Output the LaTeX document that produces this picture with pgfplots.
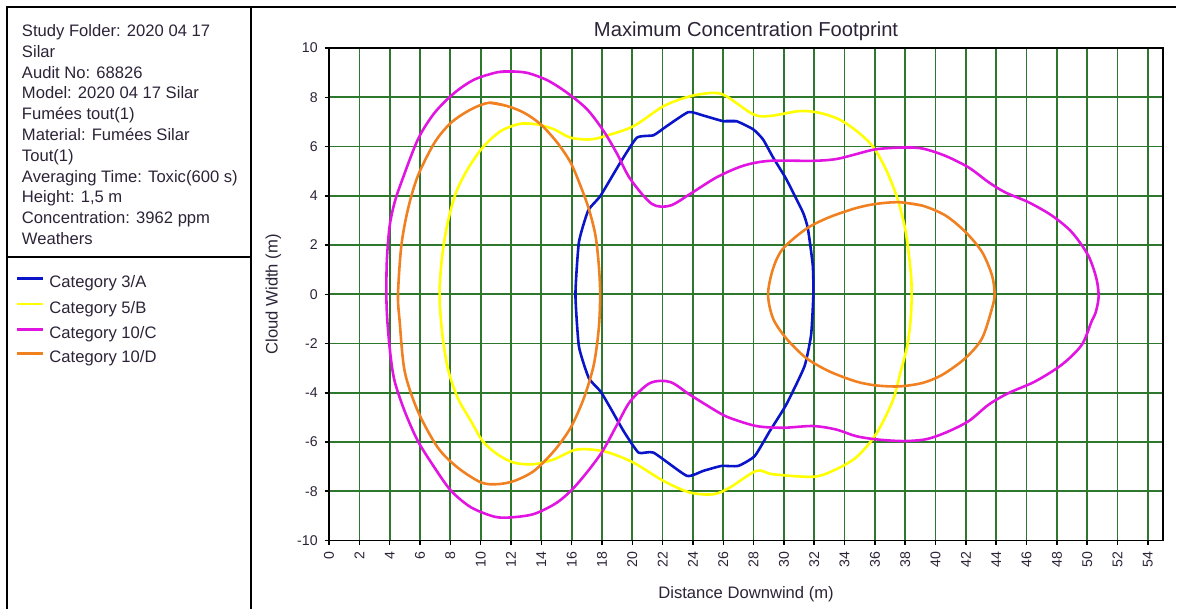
\documentclass[border=0pt]{standalone}
\usepackage{pgfplots}
\pgfplotsset{compat=1.18}
\usepackage{fontspec}
\setmainfont{Liberation Sans}
\definecolor{cA}{RGB}{10,20,200}
\definecolor{cB}{RGB}{255,255,0}
\definecolor{cC}{RGB}{225,20,225}
\definecolor{cD}{RGB}{240,128,32}
\definecolor{gridg}{RGB}{45,120,45}
\definecolor{txt}{RGB}{45,35,55}
\begin{document}
\begin{tikzpicture}
\begin{scope}[x=0.5pt,y=-0.5pt]
\path[use as bounding box] (0,0) rectangle (1177,607);
\end{scope}
\begin{axis}[
 at={(165.35pt,-271.65pt)}, anchor=south west,
 scale only axis, width=419.15pt, height=247.5pt,
 xmin=0, xmax=55, ymin=-10, ymax=10,
 xtick={0,2,...,54}, ytick={-10,-8,...,10},
 grid=major,
 major grid style={draw=gridg, line width=0.85pt},
 axis line style={black, line width=0.8pt},
 tick style={black, line width=0.8pt},
 tick align=outside, major tick length=2.2pt,
 tick pos=left,
 tick label style={font=\fontsize{7.1}{8}\selectfont, text=txt},
 /pgf/number format/assume math mode=true,
 xticklabel style={rotate=90, anchor=east},
 title={Maximum Concentration Footprint},
 title style={at={(axis description cs:0.5,1)}, anchor=base, yshift=-0.2pt, font=\fontsize{10.15}{12}\selectfont, text=txt},
 xlabel={Distance Downwind (m)},
 xlabel style={at={(axis description cs:0.5,0)}, anchor=base, yshift=-29.3pt, font=\fontsize{8.35}{10}\selectfont, text=txt},
 ylabel={Cloud Width (m)},
 ylabel style={at={(axis description cs:-0.0617,0.5)}, anchor=base, font=\fontsize{8.35}{10}\selectfont, text=txt},
 every axis plot/.append style={line width=1.3pt, line join=round},
]
% Category 3/A
\addplot[cA, smooth, tension=0.3] coordinates {(26.0,7.03) (26.87,7.03) (27.97,6.70) (28.62,6.29) (29.28,5.56) (30.15,4.68) (31.25,3.33) (31.58,2.66) (31.9,1.18) (31.94,0) (31.79,-1.65) (31.35,-2.93) (30.15,-4.48) (29.06,-5.56) (28.07,-6.57) (26.98,-6.97) (25.88,-6.97) (24.68,-7.17) (23.59,-7.37) (21.4,-6.43) (20.41,-6.43) (19.43,-5.56) (18.55,-4.61) (17.9,-3.94) (17.13,-3.40) (16.48,-2.12) (16.25,0) (16.48,2.12) (17.09,3.40) (17.9,4.0) (19.21,5.35) (20.3,6.36) (21.4,6.46) (22.27,6.83) (23.70,7.40) (24.68,7.26) (26.0,7.03) (26.87,7.03)};
% Category 5/B
\addplot[cB, smooth, tension=0.5] coordinates {(12.64,6.93) (13.74,6.90) (14.84,6.70) (15.93,6.36) (17.24,6.29) (18.34,6.45) (20.09,6.83) (22.06,7.64) (23.8,8.04) (25.34,8.18) (26.21,8.04) (27.97,7.31) (29.06,7.24) (31.02,7.44) (32.34,7.37) (33.65,7.10) (34.75,6.65) (35.84,6.02) (36.72,5.08) (37.49,3.87) (38.03,2.53) (38.36,0.91) (38.42,0) (38.36,-0.98) (38.14,-2.06) (37.70,-3.13) (37.16,-4.34) (36.06,-5.69) (34.75,-6.63) (33.22,-7.17) (31.9,-7.41) (29.28,-7.31) (28.18,-7.17) (26.43,-7.85) (25.34,-8.12) (23.8,-8.05) (22.06,-7.58) (20.09,-6.84) (18.45,-6.43) (17.24,-6.30) (16.15,-6.33) (14.84,-6.70) (13.52,-6.9) (12.21,-6.84) (11.11,-6.5) (10.13,-5.96) (9.36,-5.15) (8.49,-4.21) (7.83,-3.0) (7.45,-1.5) (7.29,0) (7.45,1.5) (7.83,2.93) (8.38,4.14) (9.14,5.08) (10.13,5.96) (11.33,6.63) (12.64,6.93) (13.74,6.90)};
% Category 10/C
\addplot[cC, smooth, tension=0.5] coordinates {(11.11,9.02) (11.99,9.05) (13.08,8.99) (14.4,8.69) (15.71,8.18) (17.02,7.51) (18.12,6.62) (19.0,5.7) (19.87,4.68) (21.29,3.67) (22.49,3.60) (23.8,4.07) (25.56,4.75) (27.31,5.22) (29.06,5.42) (31.9,5.42) (33.43,5.49) (34.75,5.69) (36.06,5.89) (37.81,5.96) (39.13,5.92) (40.65,5.62) (42.18,5.15) (43.5,4.55) (44.59,4.14) (46.12,3.74) (47.66,3.20) (48.97,2.53) (50.06,1.58) (50.6,0.65) (50.75,-0.1) (50.55,-0.75) (50.28,-1.11) (49.63,-2.06) (48.32,-2.86) (46.56,-3.54) (44.81,-4.01) (43.5,-4.48) (42.18,-5.15) (40.65,-5.62) (39.34,-5.89) (37.81,-5.96) (36.06,-5.89) (34.75,-5.76) (33.43,-5.49) (31.9,-5.35) (29.93,-5.42) (28.18,-5.35) (26.43,-5.02) (25.56,-4.75) (23.8,-4.08) (22.49,-3.56) (21.18,-3.60) (19.87,-4.34) (19.0,-5.29) (17.9,-6.5) (16.3,-7.75) (15.05,-8.45) (13.52,-8.92) (11.99,-9.06) (10.9,-9.03) (9.36,-8.65) (8.05,-7.98) (6.96,-7.04) (5.86,-5.96) (4.99,-4.75) (4.33,-3.54) (4.05,-2.46) (3.85,-1.11) (3.78,0) (3.82,1.45) (4.0,2.79) (4.33,3.74) (4.77,4.55) (5.86,6.29) (6.96,7.37) (8.27,8.18) (9.58,8.72) (11.11,9.02) (11.99,9.05)};
% Category 10/D
\addplot[cD, smooth, tension=0.5] coordinates {(10.57,7.78) (11.77,7.64) (12.87,7.37) (13.96,6.90) (15.05,6.16) (15.93,5.35) (16.58,4.41) (17.13,3.47) (17.57,2.39) (17.79,1.18) (17.88,0) (17.79,-1.38) (17.46,-2.86) (16.81,-4.21) (15.93,-5.42) (14.84,-6.36) (13.52,-7.17) (12.21,-7.58) (11.11,-7.71) (10.02,-7.64) (8.49,-7.04) (7.18,-6.23) (5.86,-4.75) (4.99,-3.13) (4.66,-1.11) (4.55,0) (4.77,1.98) (5.21,3.47) (5.86,4.81) (6.96,6.16) (8.05,6.97) (9.36,7.51) (10.57,7.78) (11.77,7.64)};
\addplot[cD, smooth, tension=0.5] coordinates {(37.59,3.74) (39.13,3.60) (40.65,3.20) (41.97,2.53) (43.06,1.72) (43.72,0.77) (43.89,0) (43.72,-0.57) (43.06,-1.79) (41.97,-2.59) (40.44,-3.27) (39.13,-3.60) (37.59,-3.74) (36.06,-3.70) (34.75,-3.54) (32.99,-3.13) (31.47,-2.59) (30.15,-1.79) (29.28,-0.98) (28.95,0) (29.28,1.04) (29.93,1.85) (31.47,2.66) (32.99,3.13) (34.75,3.50) (36.06,3.67) (37.59,3.74) (39.13,3.60)};
\end{axis}
\begin{scope}[x=0.5pt,y=-0.5pt]
 \draw[line width=1pt] (7,612) -- (7,7) -- (1182,7);
 \draw[line width=1pt] (252,7) -- (252,612);
 \draw[line width=1pt] (7,258.5) -- (252,258.5);
 \begin{scope}[every node/.style={anchor=base west, inner sep=0pt, font=\fontsize{8.35}{10}\selectfont, text=txt}]
 \node at (21.7,36.7) {Study Folder: 2020 04 17};
 \node at (21.7,57.6) {Silar};
 \node at (21.7,78.5) {Audit No: 68826};
 \node at (21.7,99.4) {Model: 2020 04 17 Silar};
 \node at (21.7,120.3) {Fumées tout(1)};
 \node at (21.7,141.2) {Material: Fumées Silar};
 \node at (21.7,162.1) {Tout(1)};
 \node at (21.7,183) {Averaging Time: Toxic(600 s)};
 \node at (21.7,203.9) {Height: 1,5 m};
 \node at (21.7,224.8) {Concentration: 3962 ppm};
 \node at (21.7,245.7) {Weathers};
 \node at (49.3,289.3) {Category 3/A};
 \node at (49.3,314.8) {Category 5/B};
 \node at (49.3,340.3) {Category 10/C};
 \node at (49.3,364.8) {Category 10/D};
 \end{scope}
 \draw[cA, line width=1.3pt] (17.3,280) -- (43.3,280);
 \draw[cB, line width=1.3pt] (17.3,305.5) -- (43.3,305.5);
 \draw[cC, line width=1.3pt] (17.3,331) -- (43.3,331);
 \draw[cD, line width=1.3pt] (17.3,355.5) -- (43.3,355.5);
\end{scope}
\end{tikzpicture}
\end{document}
